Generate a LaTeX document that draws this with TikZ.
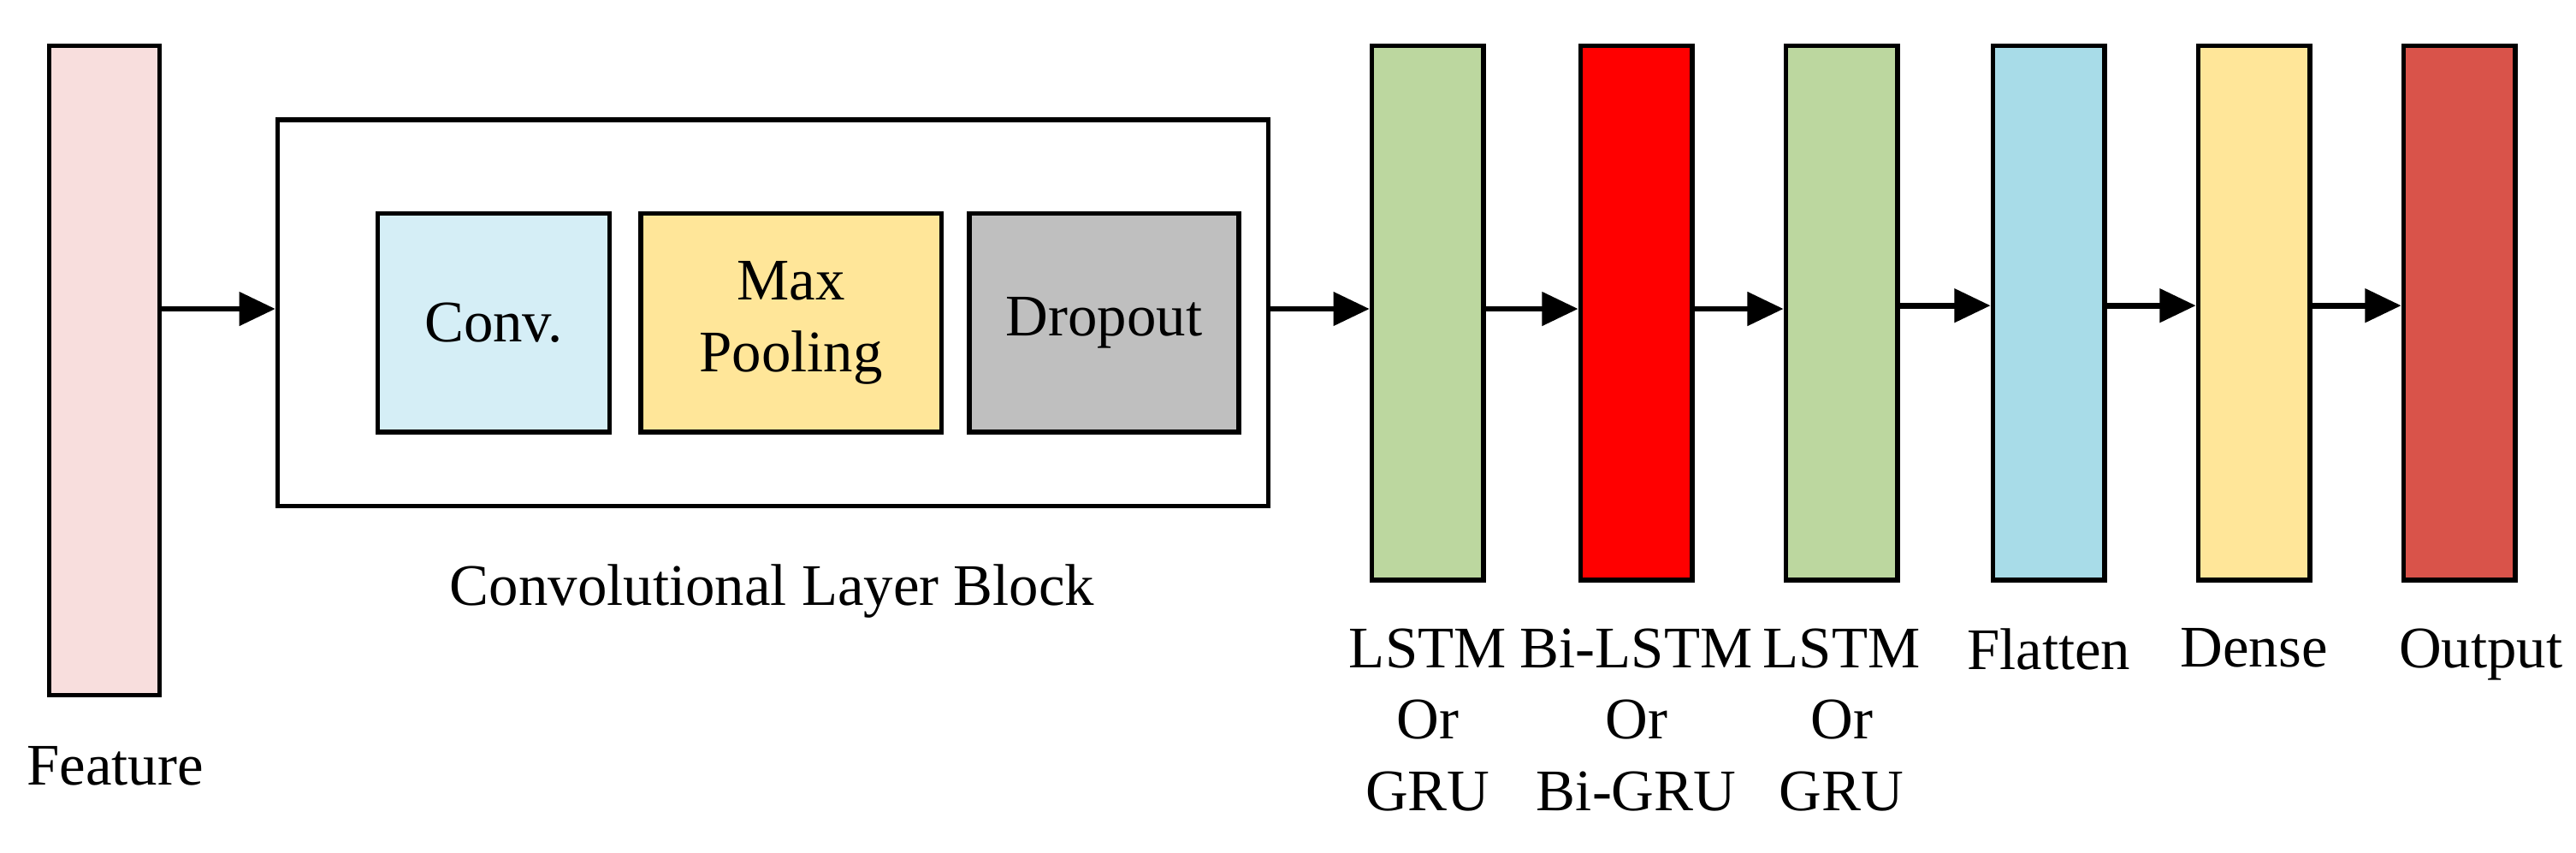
\documentclass[tikz,border=0pt]{standalone}
\usepackage{fontspec}
\setmainfont{Liberation Serif}
\usetikzlibrary{arrows.meta}
\definecolor{featpink}{HTML}{F8DEDD}
\definecolor{convblue}{HTML}{D5EEF6}
\definecolor{poolyellow}{HTML}{FFE699}
\definecolor{dropgray}{HTML}{BFBFBF}
\definecolor{lstmgreen}{HTML}{BCD79F}
\definecolor{flatblue}{HTML}{A8DCE8}
\definecolor{outred}{HTML}{D9534A}
\tikzset{
  blk/.style={draw, line width=4pt, inner sep=0pt},
  layer/.style={blk, minimum width=3.4cm, minimum height=16.25cm},
  inner/.style={blk, minimum height=6.65cm, align=center},
  arr/.style={line width=5pt, -{Triangle[length=1.1cm,width=1cm]}},
  lbl/.style={align=center, font=\fontsize{51}{62}\selectfont},
}
\begin{document}
\begin{tikzpicture}[x=0.05cm, y=-0.05cm, font=\fontsize{51}{62}\selectfont]
%set bounding box
\useasboundingbox (0,0) rectangle (1568,519);
%feature input
\node[blk, fill=featpink, minimum width=3.35cm, minimum height=19.75cm] (feat) at (63.5,225.5) {};
\node[lbl] (featlbl) at (70,466) {Feature};
%convolutional block
\node[blk, minimum width=30.15cm, minimum height=11.75cm] (cbox) at (470.5,190.5) {};
\node[lbl] (cboxlbl) at (470,360) {Convolutional Layer Block};
\node[inner, fill=convblue, minimum width=7.05cm] (conv) at (300.5,196.5) {Conv.};
\node[inner, fill=poolyellow, minimum width=9.15cm] (pool) at (481.5,196.5) {Max\\Pooling};
\node[inner, fill=dropgray, minimum width=8.2cm] (drop) at (672,196.5) {Dropout};
%recurrent and dense layers
\node[layer, fill=lstmgreen] (lstm1) at (869,190.5) {};
\node[layer, fill=red] (bilstm) at (996,190.5) {};
\node[layer, fill=lstmgreen] (lstm2) at (1121,190.5) {};
\node[layer, fill=flatblue] (flat) at (1247,190.5) {};
\node[layer, fill=poolyellow] (dense) at (1372,190.5) {};
\node[layer, fill=outred] (out) at (1497,190.5) {};
\node[lbl, anchor=north] (lstm1lbl) at (869,380) {LSTM\\Or\\GRU};
\node[lbl, anchor=north] (bilstmlbl) at (996,380) {Bi-LSTM\\Or\\Bi-GRU};
\node[lbl, anchor=north] (lstm2lbl) at (1121,380) {LSTM\\Or\\GRU};
\node[lbl, anchor=north] (flatlbl) at (1247,380) {Flatten};
\node[lbl, anchor=north] (denselbl) at (1372,380) {Dense};
\node[lbl, anchor=north] (outlbl) at (1510,380) {Output};
%arrows
\draw[arr] (feat.east |- 0,188) -- (cbox.west |- 0,188);
\draw[arr] (cbox.east |- 0,188) -- (lstm1.west |- 0,188);
\draw[arr] (lstm1.east |- 0,188) -- (bilstm.west |- 0,188);
\draw[arr] (bilstm.east |- 0,188) -- (lstm2.west |- 0,188);
\draw[arr] (lstm2.east |- 0,186) -- (flat.west |- 0,186);
\draw[arr] (flat.east |- 0,186) -- (dense.west |- 0,186);
\draw[arr] (dense.east |- 0,186) -- (out.west |- 0,186);
\end{tikzpicture}
\end{document}
